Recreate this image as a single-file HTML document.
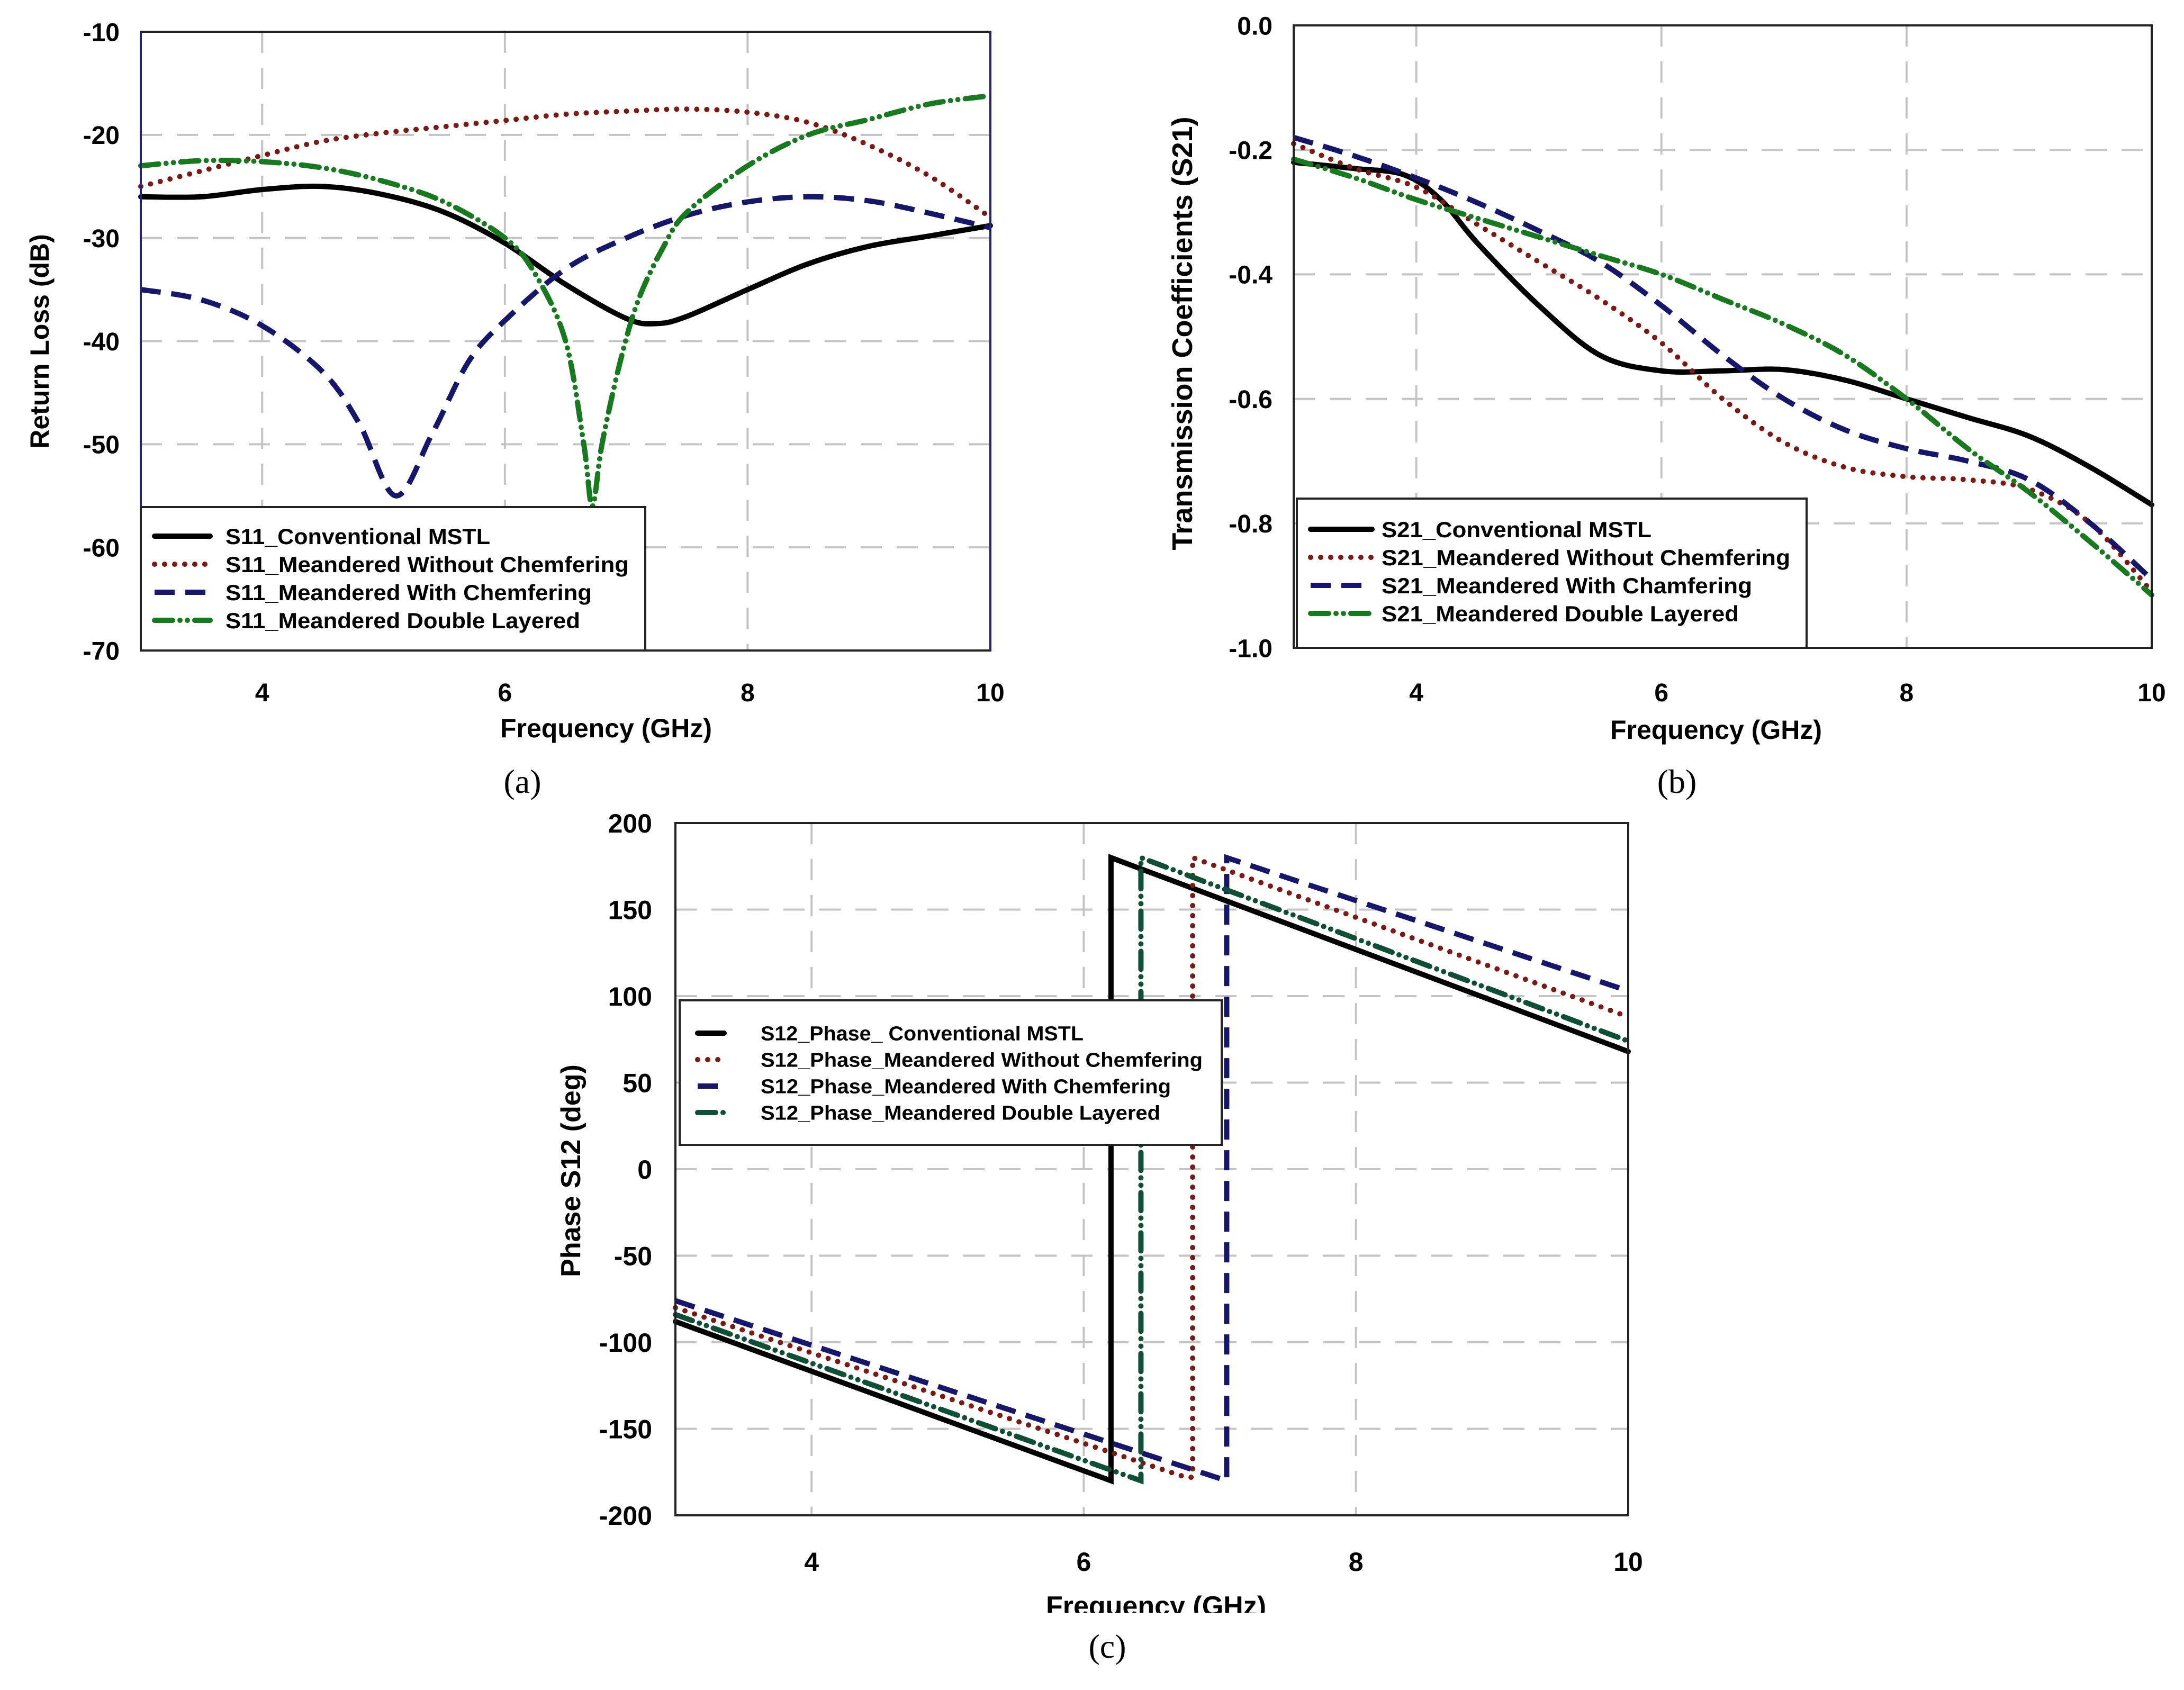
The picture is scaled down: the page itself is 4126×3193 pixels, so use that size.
<!DOCTYPE html>
<html><head><meta charset="utf-8"><style>
html,body{margin:0;padding:0;background:#fff;}
svg{display:block;}
text{font-family:"Liberation Sans",Arial,sans-serif;font-weight:bold;fill:#000;}
.cap{font-family:"Liberation Serif",serif;font-weight:normal;}
</style></head><body>
<svg id="fig" xmlns="http://www.w3.org/2000/svg" width="4126" height="3193" viewBox="0 0 4126 3193">
<defs><clipPath id="clipc"><rect x="0" y="0" width="4126" height="3047"/></clipPath></defs>
<g id="chartA"></g>
<g id="chartB"></g>
<g id="chartC" clip-path="url(#clipc)"></g>
<text class="cap" x="987" y="1498" font-size="64" text-anchor="middle">(a)</text>
<text class="cap" x="3168" y="1498" font-size="64" text-anchor="middle">(b)</text>
<text class="cap" x="2092" y="3132" font-size="64" text-anchor="middle">(c)</text>
</svg>
<script>
// ---- Chart A data (S11) ----
const aBlackX=[3,3.5,4,4.5,5,5.5,6,6.5,7,7.25,7.5,8,8.5,9,9.5,10];
const aBlackY=[-26,-26,-25.3,-25,-25.8,-27.5,-30.5,-34.5,-37.8,-38.3,-37.6,-35,-32.5,-30.8,-29.8,-28.8];
const aRedX=[3,3.5,4,4.5,5,5.5,6,6.5,7,7.5,8,8.5,9,9.5,10];
const aRedY=[-25,-23.5,-22,-20.6,-19.8,-19.2,-18.6,-18,-17.7,-17.5,-17.8,-18.8,-21,-24,-28];
const aBlueX=[3,3.5,4,4.5,4.8,5.1,5.4,5.7,6,6.5,7,7.5,8,8.5,9,9.5,10];
const aBlueY=[-35,-36,-38.5,-43,-48,-55,-49,-42,-38,-33,-30,-27.8,-26.5,-26,-26.4,-27.6,-29];
const aGreenX=[3,3.5,4,4.5,5,5.5,6,6.25,6.5,6.65,6.72,6.8,6.95,7.1,7.3,7.5,8,8.5,9,9.5,10];
const aGreenY=[-23,-22.5,-22.6,-23.2,-24.5,-26.5,-30,-33.5,-40,-50,-56,-50,-42,-36,-31,-27.5,-23,-20,-18.5,-17,-16.2];
const aXTicks=[4,6,8,10];
const aYTicks=[-10,-20,-30,-40,-50,-60,-70];
const aLegend=["S11_Conventional MSTL","S11_Meandered Without Chemfering","S11_Meandered With Chemfering","S11_Meandered Double Layered"];
// ---- Chart B data (S21) ----
const bBlackX=[3,3.5,3.9,4.2,4.5,5,5.5,6,6.5,7,7.5,8,8.5,9,9.5,10];
const bBlackY=[-0.22,-0.23,-0.24,-0.28,-0.35,-0.45,-0.53,-0.555,-0.555,-0.553,-0.57,-0.6,-0.63,-0.66,-0.71,-0.77];
const bRedX=[3,3.5,4,4.5,5,5.5,6,6.5,7,7.5,8,8.5,9,9.5,10];
const bRedY=[-0.19,-0.23,-0.26,-0.32,-0.38,-0.44,-0.51,-0.6,-0.67,-0.71,-0.725,-0.73,-0.745,-0.8,-0.91];
const bBlueX=[3,3.5,4,4.5,5,5.5,6,6.5,7,7.5,8,8.5,9,9.5,10];
const bBlueY=[-0.18,-0.21,-0.245,-0.285,-0.33,-0.38,-0.45,-0.53,-0.6,-0.65,-0.68,-0.7,-0.73,-0.8,-0.89];
const bGreenX=[3,3.5,4,4.5,5,5.5,6,6.5,7,7.5,8,8.5,9,9.5,10];
const bGreenY=[-0.215,-0.245,-0.28,-0.31,-0.34,-0.37,-0.4,-0.44,-0.48,-0.53,-0.6,-0.68,-0.75,-0.83,-0.915];
const bXTicks=[4,6,8,10];
const bYTicks=[0,-0.2,-0.4,-0.6,-0.8,-1.0];
const bLegend=["S21_Conventional MSTL","S21_Meandered Without Chemfering","S21_Meandered With Chamfering","S21_Meandered Double Layered"];
// ---- Chart C data (phase) ----
const cBlackX=[3,6.2,6.2,10];
const cBlackY=[-88,-180,180,68];
const cRedX=[3,6.75,6.8,6.8,10];
const cRedY=[-80,-178,-178,180,88];
const cBlueX=[3,7.05,7.05,10];
const cBlueY=[-76,-180,180,103];
const cGreenX=[3,6.42,6.42,10];
const cGreenY=[-84,-180,180,74];
const cXTicks=[4,6,8,10];
const cYTicks=[200,150,100,50,0,-50,-100,-150,-200];
const cLegend=["S12_Phase_ Conventional MSTL","S12_Phase_Meandered Without Chemfering","S12_Phase_Meandered With Chemfering","S12_Phase_Meandered Double Layered"];

const NS="http://www.w3.org/2000/svg";
function mk(parent,tag,attrs){const e=document.createElementNS(NS,tag);for(const k in attrs)e.setAttribute(k,attrs[k]);parent.appendChild(e);return e;}
function smooth(pts){let d="M"+pts[0][0]+","+pts[0][1];for(let i=0;i<pts.length-1;i++){const p0=pts[Math.max(0,i-1)],p1=pts[i],p2=pts[i+1],p3=pts[Math.min(pts.length-1,i+2)];const c1x=p1[0]+(p2[0]-p0[0])/6,c1y=p1[1]+(p2[1]-p0[1])/6,c2x=p2[0]-(p3[0]-p1[0])/6,c2y=p2[1]-(p3[1]-p1[1])/6;d+=" C"+c1x+","+c1y+" "+c2x+","+c2y+" "+p2[0]+","+p2[1];}return d;}
function poly(pts){return "M"+pts.map(p=>p[0]+","+p[1]).join(" L");}

const styles={
 black:{stroke:"#000","stroke-width":10,"stroke-linecap":"round"},
 red:{stroke:"#7a1a12","stroke-width":10,"stroke-dasharray":"0 19","stroke-linecap":"round"},
 blue:{stroke:"#16166a","stroke-width":10,"stroke-dasharray":"38 20"},
 green:{stroke:"#177a1f","stroke-width":10,"stroke-dasharray":"34 14 0 14 0 14","stroke-linecap":"round"}
};

function chart(g,cfg){
 const {L,R,T,B,xmin,xmax,ymin,ymax}=cfg;
 const x=v=>L+(v-xmin)/(xmax-xmin)*(R-L);
 const y=v=>B-(v-ymin)/(ymax-ymin)*(B-T);
 // grid
 cfg.xticks.forEach(t=>{if(t<xmax){const l=mk(g,"line",{x1:x(t),x2:x(t),y1:T,y2:B,stroke:"#c4c4c4","stroke-width":4,"stroke-dasharray":"40 28"});
 
 }});
 cfg.yticks.forEach(t=>{if(t>ymin&&t<ymax){const l=mk(g,"line",{x1:L,x2:R,y1:y(t),y2:y(t),stroke:"#c4c4c4","stroke-width":4,"stroke-dasharray":"40 28"});
 
 }});
 // series
 cfg.series.forEach(s=>{const pts=s.xs.map((v,i)=>[x(v),y(s.ys[i])]);const a=Object.assign({d:s.linear?poly(pts):smooth(pts),fill:"none"},styles[s.style]);if(s.color)a.stroke=s.color;const p=mk(g,"path",a);
 
 });
 // frame
 const f=mk(g,"rect",{x:L,y:T,width:R-L,height:B-T,fill:"none",stroke:"#222","stroke-width":4});
 
 
 if(cfg.navySides){[L,R].forEach(xx=>{const l=mk(g,"line",{x1:xx,x2:xx,y1:T,y2:B,stroke:"#23236e","stroke-width":4});
 
 });}
 // ticks labels
 cfg.xticks.forEach(t=>{const e=mk(g,"text",{x:x(t),y:cfg.xLabY,"font-size":cfg.fs,"text-anchor":"middle"});e.textContent=t;
 
 });
 cfg.yticks.forEach(t=>{const e=mk(g,"text",{x:cfg.yLabX,y:y(t)+cfg.fs*0.36,"font-size":cfg.fs,"text-anchor":"end"});e.textContent=cfg.yfmt?cfg.yfmt(t):t;
 
 });
 const xt=mk(g,"text",{x:cfg.xTitle[0],y:cfg.xTitle[1],"font-size":cfg.tfs,"text-anchor":"middle"});xt.textContent="Frequency (GHz)";
 
 
 const yt=mk(g,"text",{x:0,y:0,"font-size":cfg.yfs||cfg.tfs,"text-anchor":"middle",transform:`translate(${cfg.yTitle[0]},${cfg.yTitle[1]}) rotate(-90)`});yt.textContent=cfg.yTitleText;
 
 
 // legend
 const lg=cfg.legend;
 const box=mk(g,"rect",{x:lg.x,y:lg.y,width:lg.w,height:lg.h,fill:"#fff",stroke:"#222","stroke-width":4});
 
 
 cfg.series.forEach((s,i)=>{const yy=lg.y0+i*lg.dy;const a=Object.assign({x1:lg.sx1,x2:lg.sx2,y1:yy,y2:yy},styles[s.style]);if(s.color)a.stroke=s.color;if(lg.sampleDash&&lg.sampleDash[i])a["stroke-dasharray"]=lg.sampleDash[i];const l=mk(g,"line",a);
 
 
 const t=mk(g,"text",{x:lg.tx,y:yy+lg.fs*0.36,"font-size":lg.fs,textLength:lg.widths[i],lengthAdjust:"spacingAndGlyphs"});t.textContent=lg.labels[i];
 
 });
}

chart(document.getElementById("chartA"),{L:266,R:1871,T:60,B:1229,xmin:3,xmax:10,ymin:-70,ymax:-10,
 xticks:aXTicks,yticks:aYTicks,fs:48,tfs:50,xLabY:1325,yLabX:226,navySides:true,
 xTitle:[1145,1393],yTitle:[92,645],yTitleText:"Return Loss (dB)",
 series:[{xs:aBlackX,ys:aBlackY,style:"black",name:"s11-conventional-line"},
  {xs:aRedX,ys:aRedY,style:"red",name:"s11-without-chamfer-line"},
  {xs:aBlueX,ys:aBlueY,style:"blue",name:"s11-with-chamfer-line"},
  {xs:aGreenX,ys:aGreenY,style:"green",name:"s11-double-layer-line"}],
 legend:{x:266,y:958,w:953,h:271,y0:1013,dy:53,sx1:292,sx2:397,tx:426,fs:42,labels:aLegend,widths:[500,762,692,670]}});

chart(document.getElementById("chartB"),{L:2444,R:4065,T:48,B:1224,xmin:3,xmax:10,ymin:-1,ymax:0,
 xticks:bXTicks,yticks:bYTicks,fs:48,tfs:50,yfs:54,xLabY:1325,yLabX:2404,yfmt:v=>v.toFixed(1),
 xTitle:[3242,1396],yTitle:[2252,630],yTitleText:"Transmission Coefficients (S21)",
 series:[{xs:bBlackX,ys:bBlackY,style:"black",name:"s21-conventional-line"},
  {xs:bRedX,ys:bRedY,style:"red",name:"s21-without-chamfer-line"},
  {xs:bBlueX,ys:bBlueY,style:"blue",name:"s21-with-chamfer-line"},
  {xs:bGreenX,ys:bGreenY,style:"green",name:"s21-double-layer-line"}],
 legend:{x:2450,y:942,w:963,h:282,y0:1000,dy:53,sx1:2476,sx2:2592,tx:2610,fs:42,labels:bLegend,widths:[510,772,700,675]}});

chart(document.getElementById("chartC"),{L:1276,R:3076,T:1555,B:2863,xmin:3,xmax:10,ymin:-200,ymax:200,
 xticks:cXTicks,yticks:cYTicks,fs:50,tfs:52,xLabY:2968,yLabX:1232,
 xTitle:[2184,3052],yTitle:[1096,2212],yTitleText:"Phase S12 (deg)",
 series:[{xs:cBlackX,ys:cBlackY,style:"black",name:"phase-conventional-line",linear:true},
  {xs:cRedX,ys:cRedY,style:"red",name:"phase-without-chamfer-line",linear:true},
  {xs:cBlueX,ys:cBlueY,style:"blue",name:"phase-with-chamfer-line",linear:true},
  {xs:cGreenX,ys:cGreenY,style:"green",color:"#0e4f35",name:"phase-double-layer-line",linear:true}],
 legend:{x:1284,y:1890,w:1024,h:273,y0:1952,dy:50,sx1:1318,sx2:1368,tx:1437,fs:38,labels:cLegend,widths:[610,835,775,755],sampleDash:[null,"0 19",null,null]}});
</script>
</body></html>
